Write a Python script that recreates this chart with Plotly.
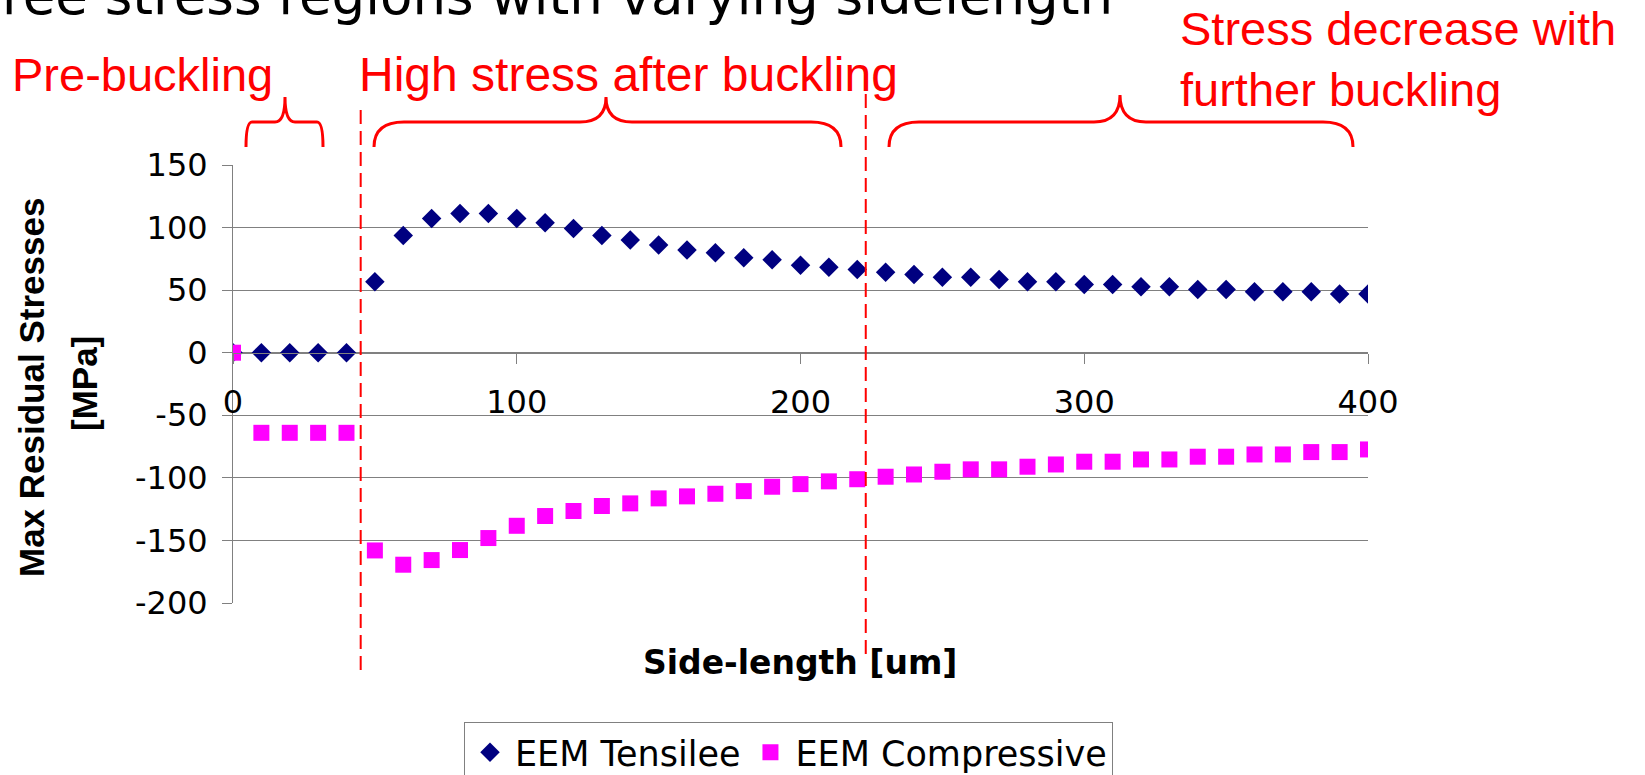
import plotly.graph_objects as go

# ---------------- data ----------------
side_length = [0, 10, 20, 30, 40, 50, 60, 70, 80, 90, 100, 110, 120, 130, 140, 150, 160, 170, 180, 190,
               200, 210, 220, 230, 240, 250, 260, 270, 280, 290, 300, 310, 320, 330, 340, 350, 360, 370,
               380, 390, 400]
eem_tensile = [0, 0, 0, 0, 0, 56.7, 93.7, 107.3, 111.3, 111.3, 107.3, 103.9, 99.3, 93.7, 90, 86, 82, 79.9,
               75.9, 74.3, 69.8, 68.2, 66.5, 64.3, 62.5, 60.4, 60.4, 58.6, 56.7, 56.7, 54.6, 54.6, 52.7,
               52.7, 50.6, 50.6, 48.7, 48.7, 48.7, 46.9, 46.9]
eem_compressive = [0, -64, -64, -64, -64, -158, -169.4, -165.7, -157.7, -148.1, -138.3, -130.5, -126.5,
                   -122.5, -120.4, -116.4, -114.8, -112.7, -110.6, -107.1, -105, -102.8, -101.1, -99.1,
                   -97.3, -95.1, -93.2, -93.2, -91.1, -89.3, -87.1, -87.1, -85.3, -85.3, -83.1, -83.1,
                   -81.3, -81.3, -79.4, -79.4, -77.3]
x_ticks = [0, 100, 200, 300, 400]
y_ticks = [150, 100, 50, 0, -50, -100, -150, -200]
y_tick_labels = ["150", "100", "50", "0", "-50", "-100", "-150", "-200"]
region_bounds = [45, 223]  # side-length values of dashed region separators

# ---------------- layout helpers (pixel -> paper) ----------------
W, H = 1645, 775
L, R, T, B = 233, 1368, 165, 603


def px(x):
    return (x - L) / (R - L)


def py(y):
    return (B - y) / (B - T)


RED = "#FF0000"
GRID = "#808080"
FONT = "Liberation Sans, Arial, sans-serif"
WIDE = "DejaVu Sans, sans-serif"

fig = go.Figure()
fig.add_trace(go.Scatter(
    x=side_length, y=eem_tensile, mode="markers", name="EEM Tensilee",
    marker=dict(symbol="diamond", size=15, color="#000080", line=dict(width=0)),
))
fig.add_trace(go.Scatter(
    x=side_length, y=eem_compressive, mode="markers", name="EEM Compressive",
    marker=dict(symbol="square", size=16, color="#FF00FF", line=dict(width=0)),
))

zero_pos = (0 - min(y_ticks)) / (max(y_ticks) - min(y_ticks))

fig.update_layout(
    width=W, height=H,
    margin=dict(l=L, r=W - R, t=T, b=H - B, pad=0, autoexpand=False),
    paper_bgcolor="white", plot_bgcolor="white",
    font=dict(family=FONT, color="black"),
    showlegend=True,
    legend=dict(
        orientation="h", x=px(464), xanchor="left", y=py(722), yanchor="top",
        bordercolor=GRID, borderwidth=1, font=dict(size=35, family=WIDE),
        bgcolor="white", itemwidth=40,
    ),
    xaxis=dict(
        range=[0, 400], tickvals=x_ticks, ticks="outside", ticklen=10, tickcolor=GRID,
        showline=True, linecolor=GRID, linewidth=1, showgrid=False, zeroline=False,
        anchor="free", position=zero_pos, tickfont=dict(size=32, family=WIDE), ticklabelstandoff=11,
    ),
    yaxis=dict(
        range=[-200, 150], tickvals=y_ticks, ticktext=y_tick_labels, ticks="outside", ticklen=10,
        tickcolor=GRID, showline=True, linecolor=GRID, linewidth=1, showgrid=True, gridcolor=GRID,
        gridwidth=1, zeroline=False, tickfont=dict(size=32, family=WIDE), ticklabelstandoff=8,
    ),
)

annotations = [
    dict(text="ree stress regions with varying sidelength", xref="paper", yref="paper",
         x=px(0), y=py(-4), xanchor="left", yanchor="middle", showarrow=False,
         font=dict(family="DejaVu Sans", size=53, color="black")),
    dict(text="Pre-buckling", xref="paper", yref="paper", x=px(10), y=py(74),
         xanchor="left", yanchor="middle", showarrow=False, font=dict(size=47, color=RED)),
    dict(text="High stress after buckling", xref="paper", yref="paper", x=px(357), y=py(74),
         xanchor="left", yanchor="middle", showarrow=False, font=dict(size=48, color=RED)),
    dict(text="Stress decrease with<br>further buckling", xref="paper", yref="paper", x=px(1178),
         y=py(59), xanchor="left", yanchor="middle", align="left", showarrow=False,
         font=dict(size=47, color=RED)),
    dict(text="<b>Max Residual Stresses</b>", xref="paper", yref="paper",
         x=px(31), y=py(388), xanchor="center", yanchor="middle", textangle=-90, showarrow=False,
         font=dict(size=35, color="black")),
    dict(text="<b>[MPa]</b>", xref="paper", yref="paper",
         x=px(84), y=py(384), xanchor="center", yanchor="middle", textangle=-90, showarrow=False,
         font=dict(size=35, color="black")),
    dict(text="<b>Side-length [um]</b>", xref="paper", yref="paper", x=px(800), y=py(662),
         xanchor="center", yanchor="middle", showarrow=False,
         font=dict(size=33, family=WIDE, color="black")),
]
fig.update_layout(annotations=annotations)


def brace(x0, x1, xc, yt, yh, yb, r1, r2):
    return (f"M {px(x0)},{py(yb)} Q {px(x0)},{py(yh)} {px(x0 + r1)},{py(yh)} "
            f"L {px(xc - r2)},{py(yh)} Q {px(xc)},{py(yh)} {px(xc)},{py(yt)} "
            f"Q {px(xc)},{py(yh)} {px(xc + r2)},{py(yh)} "
            f"L {px(x1 - r1)},{py(yh)} Q {px(x1)},{py(yh)} {px(x1)},{py(yb)}")


shapes = []
for (x0, x1, xc, yt, r1, r2) in [(246, 323, 285, 97, 6, 10),
                                  (374, 841, 606, 97, 30, 26),
                                  (889, 1353, 1120, 95, 30, 26)]:
    shapes.append(dict(type="path", xref="paper", yref="paper",
                       path=brace(x0, x1, xc, yt, 122, 147, r1, r2),
                       line=dict(color=RED, width=3)))

for xb, ytop, ybot in zip(region_bounds, [110, 94], [676, 659]):
    shapes.append(dict(type="line", xref="x", yref="paper", x0=xb, x1=xb, y0=py(ytop), y1=py(ybot),
                       line=dict(color=RED, width=2, dash="14px,7px"), layer="above"))
fig.update_layout(shapes=shapes)

fig.write_html("out.html")
